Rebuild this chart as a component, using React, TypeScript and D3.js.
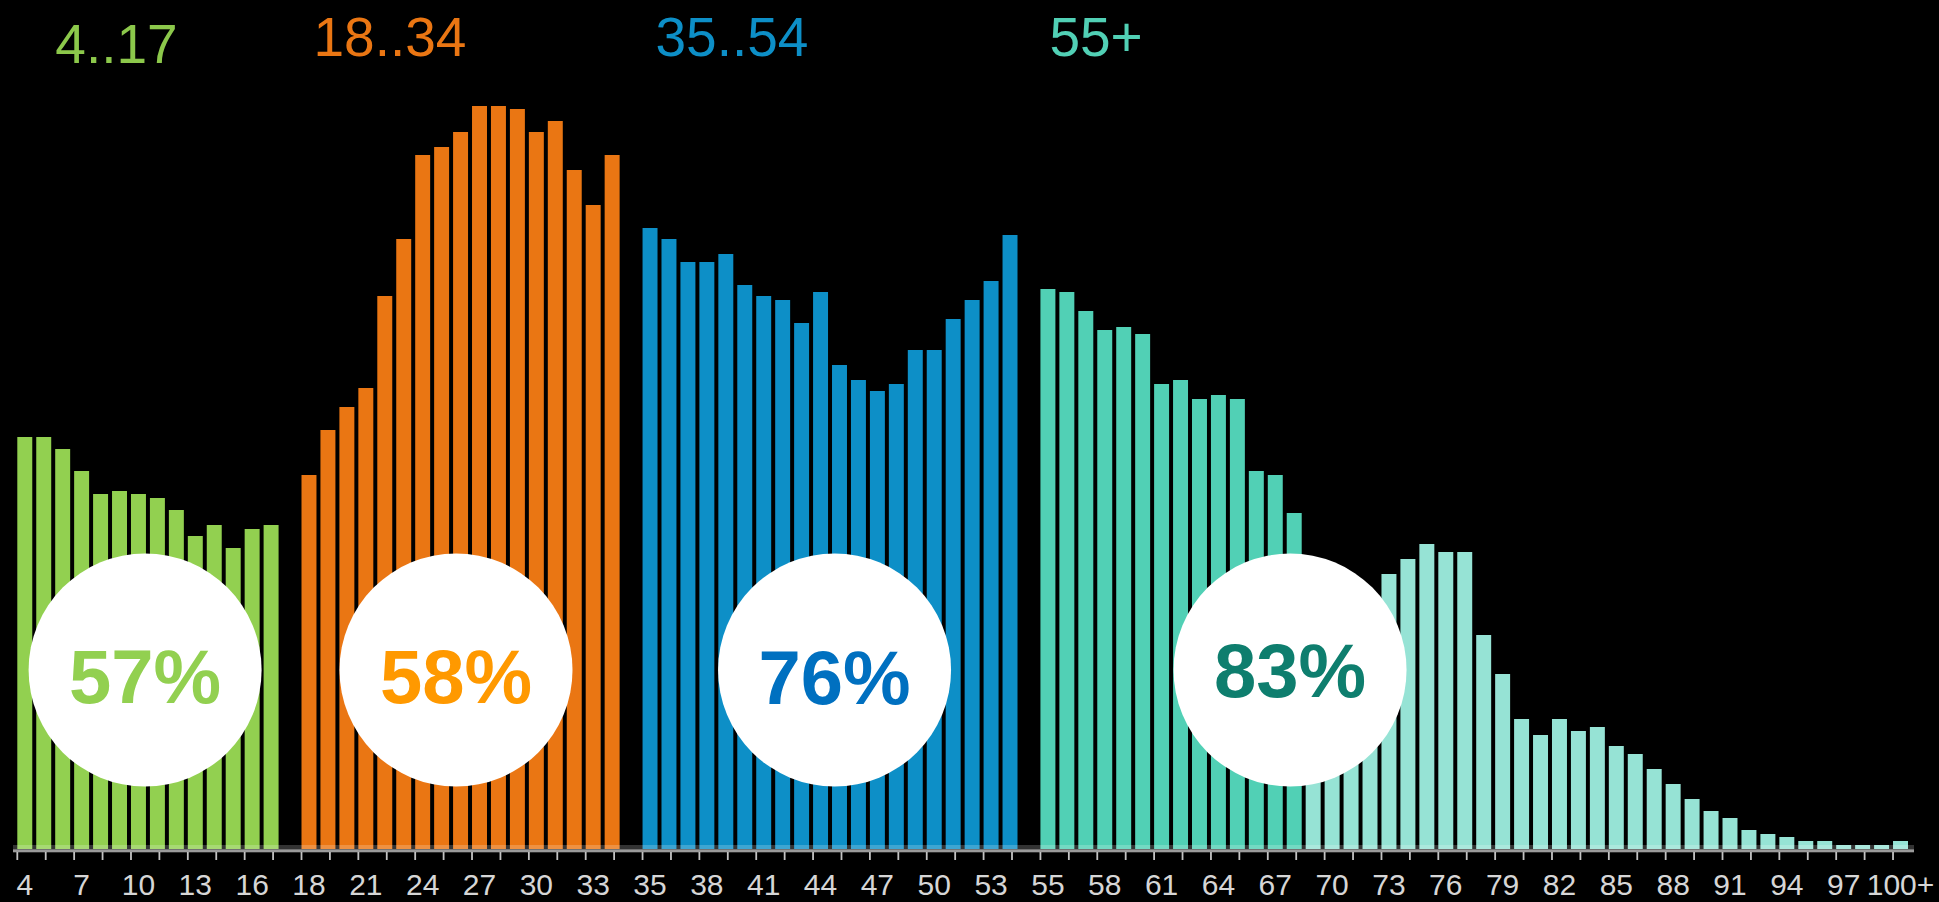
import React, { useEffect } from "react";
import * as d3 from "d3";

// ---- data ----
const groupNames = ["4..17", "18..34", "35..54", "55+"];
const groupStartAges = [4, 18, 35, 55];
const groupPercents = ["57%", "58%", "76%", "83%"];

const values4to17 = [412, 412, 400, 378, 355, 358, 355, 351, 339, 313, 324, 301, 320, 324];
const values18to34 = [374, 419, 442, 461, 553, 610, 694, 702, 717, 743, 743, 740, 717, 728, 679, 644, 694];
const values35to54 = [621, 610, 587, 587, 595, 564, 553, 549, 526, 557, 484, 469, 458, 465, 499, 499, 530, 549, 568, 614];
const values55plus = [
  560, 557, 538, 519, 522, 515, 465, 469, 450, 454, 450, 378, 374, 336,
  284, 274, 264, 249, 275, 290, 305, 297, 297, 214, 175, 130, 114, 130,
  118, 122, 103, 95, 80, 65, 50, 38, 31, 19, 15, 12, 8, 8, 4, 4, 4, 8,
];
const groupValues = [values4to17, values18to34, values35to54, values55plus];

// ---- styles ----
const barColors = ["#92D050", "#EA7613", "#0D8FC7", "#51D0B5"];
const lightTeal = "#96E3D5";
const lightTealFromAge = 69;
const headerColors = ["#8CC84B", "#EA7613", "#0D8FC7", "#51D0B5"];
const percentColors = ["#92D050", "#FF9900", "#0070C0", "#0E7E6E"];

const W = 1939;
const H = 902;

type Slot = { key: string; label: string; value: number | null; group: number; age: number };

function buildSlots(): Slot[] {
  const slots: Slot[] = [];
  groupValues.forEach((vals, g) => {
    if (g > 0) slots.push({ key: `gap${g}`, label: "", value: null, group: -1, age: -1 });
    vals.forEach((v, i) => {
      const age = groupStartAges[g] + i;
      slots.push({ key: `a${age}`, label: age >= 100 ? "100+" : String(age), value: v, group: g, age });
    });
  });
  return slots;
}

export default function App() {
  useEffect(() => {
    document.body.style.margin = "0";
    document.body.style.overflow = "hidden";
    document.body.style.background = "#000";
  }, []);

  const slots = buildSlots();
  const x = d3
    .scaleBand<string>()
    .domain(slots.map((s) => s.key))
    .range([17.3, 1908])
    .paddingInner(0.21)
    .paddingOuter(0);
  const y = d3.scaleLinear().domain([0, 800]).range([849, 49]);
  const step = x.step();
  const bw = x.bandwidth();
  const x0 = x(slots[0].key)!;

  const tickCount = 67;
  const ticks = d3.range(tickCount).map((k) => x0 + k * 1.5 * step);

  // group layout
  const firstSlotKeys = groupStartAges.map((a) => `a${a}`);
  const headerOffsets = [38, 12, 13, 9];
  const headerBaselines = [63, 56, 56, 56];
  // circle centres expressed in slot units from slot 0
  const circleSlot = [6.35, 22.76, 42.74, 66.78];
  const circleBaselines = [703, 703, 704, 697];
  const circleCy = 670;
  const r = 116.5;

  return (
    <svg
      width={W}
      height={H}
      style={{ position: "absolute", left: 0, top: 0, display: "block" }}
      fontFamily="'Liberation Sans', Arial, sans-serif"
    >
      <rect x={0} y={0} width={W} height={H} fill="#000" />

      {/* bars */}
      {slots
        .filter((s) => s.value !== null)
        .map((s) => (
          <rect
            key={s.key}
            x={x(s.key)}
            y={y(s.value as number)}
            width={bw}
            height={y(0) - y(s.value as number)}
            fill={s.group === 3 && s.age >= lightTealFromAge ? lightTeal : barColors[s.group]}
          />
        ))}

      {/* axis */}
      <rect x={13} y={845} width={1901} height={4.4} fill="#fff" fillOpacity={0.2} />
      <rect x={13} y={849.3} width={1901} height={3} fill="#9b9b9b" />
      {ticks.map((t, i) => (
        <line key={i} x1={t} x2={t} y1={852} y2={860} stroke="#c4c4c4" strokeWidth={1.8} />
      ))}
      {slots.map((s, i) =>
        i % 3 === 0 && s.label ? (
          <text
            key={`l${s.key}`}
            x={(x(s.key) as number) + bw / 2}
            y={895}
            fontSize={30}
            fill="#d6d6d6"
            textAnchor="middle"
          >
            {s.label}
          </text>
        ) : null
      )}

      {/* headers */}
      {groupNames.map((n, g) => (
        <text
          key={n}
          x={(x(firstSlotKeys[g]) as number) + headerOffsets[g]}
          y={headerBaselines[g]}
          fontSize={55}
          fill={headerColors[g]}
        >
          {n}
        </text>
      ))}

      {/* circles */}
      {groupPercents.map((p, g) => {
        const cx = x0 + circleSlot[g] * step + bw / 2;
        return (
          <g key={p}>
            <circle cx={cx} cy={circleCy} r={r} fill="#fff" />
            <text
              x={cx}
              y={circleBaselines[g]}
              fontSize={76}
              fontWeight="bold"
              fill={percentColors[g]}
              textAnchor="middle"
            >
              {p}
            </text>
          </g>
        );
      })}
    </svg>
  );
}
